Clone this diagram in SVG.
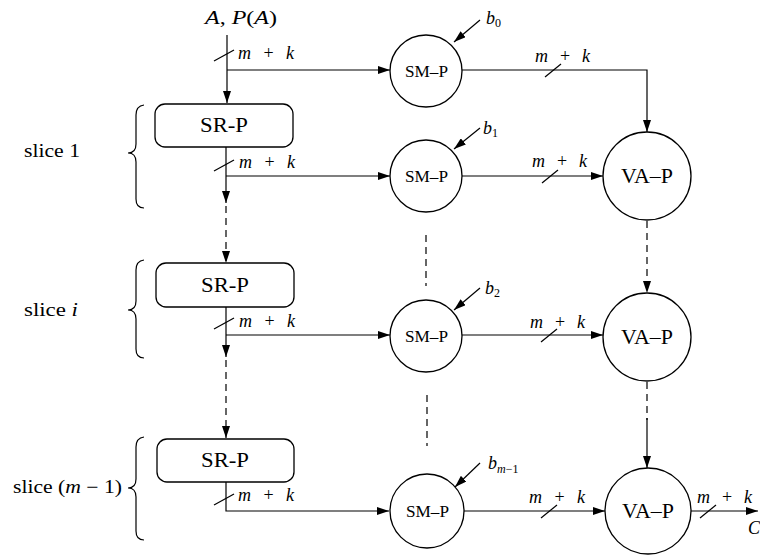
<svg xmlns="http://www.w3.org/2000/svg" width="760" height="555" viewBox="0 0 760 555">
  <defs>
    <marker id="arr" viewBox="0 0 12 8" refX="12" refY="4" markerWidth="12" markerHeight="8" markerUnits="userSpaceOnUse" orient="auto">
      <path d="M0,0 L12,4 L0,8 Z" fill="#000"/>
    </marker>
    <style>
      .ln { fill: none; stroke: #000; stroke-width: 1.2; }
      .dash { fill: none; stroke: #000; stroke-width: 1.2; stroke-dasharray: 7 5; }
      .nd { fill: #fff; stroke: #000; stroke-width: 1.3; }
      .t { font-family: "Liberation Serif", "DejaVu Serif", serif; fill: #000; }
      .i { font-style: italic; }
      .sr { font-size: 20px; }
      .sm { font-size: 17px; }
      .va { font-size: 21px; }
      .lab { font-size: 18px; }
    </style>
  </defs>

  <rect width="760" height="555" fill="#fff"/>

  <!-- input label -->
  <text class="t lab" x="205" y="24" textLength="72" lengthAdjust="spacingAndGlyphs"><tspan class="i">A</tspan>, <tspan class="i">P</tspan>(<tspan class="i">A</tspan>)</text>

  <!-- slice labels and braces -->
  <g id="slice-labels">
    <text class="t lab" x="24" y="157" textLength="56" lengthAdjust="spacingAndGlyphs">slice 1</text>
    <text class="t lab" x="24" y="316" textLength="54" lengthAdjust="spacingAndGlyphs">slice <tspan class="i">i</tspan></text>
    <text class="t lab" x="13" y="493" textLength="109" lengthAdjust="spacingAndGlyphs">slice (<tspan class="i">m</tspan> − 1)</text>
    <path class="ln" d="M144,105 Q136,106 136,115 L136,144 Q136,153 128,153 Q136,153 136,162 L136,199 Q136,208 144,208"/>
    <path class="ln" d="M144,260 Q136,261 136,270 L136,301 Q136,310 128,310 Q136,310 136,319 L136,349 Q136,358 144,358"/>
    <path class="ln" d="M144,437 Q136,438 136,447 L136,479 Q136,488 128,488 Q136,488 136,497 L136,531 Q136,540 144,540"/>
  </g>

  <!-- connectors -->
  <g id="connectors">
    <!-- main vertical chain -->
    <line class="ln" x1="227" y1="35" x2="227" y2="103" marker-end="url(#arr)"/>
    <line class="ln" x1="227" y1="70" x2="390" y2="70" marker-end="url(#arr)"/>
    <line class="ln" x1="226" y1="147" x2="226" y2="203" marker-end="url(#arr)"/>
    <line class="dash" x1="226" y1="206" x2="226" y2="263" marker-end="url(#arr)"/>
    <line class="ln" x1="226" y1="176" x2="390" y2="176" marker-end="url(#arr)"/>
    <line class="ln" x1="226" y1="307" x2="226" y2="357" marker-end="url(#arr)"/>
    <line class="dash" x1="226" y1="360" x2="226" y2="438" marker-end="url(#arr)"/>
    <line class="ln" x1="226" y1="335" x2="390" y2="335" marker-end="url(#arr)"/>
    <polyline class="ln" points="226,482 226,511 389,511" marker-end="url(#arr)"/>

    <!-- SM-P to VA-P -->
    <polyline class="ln" points="462,70 647,70 647,132" marker-end="url(#arr)"/>
    <line class="ln" x1="462" y1="176" x2="603" y2="176" marker-end="url(#arr)"/>
    <line class="ln" x1="462" y1="335" x2="603" y2="335" marker-end="url(#arr)"/>
    <line class="ln" x1="464" y1="511" x2="605" y2="511" marker-end="url(#arr)"/>

    <!-- VA-P chain -->
    <line class="dash" x1="647" y1="221" x2="647" y2="293" marker-end="url(#arr)"/>
    <line class="dash" x1="647" y1="382" x2="647" y2="420"/>
    <line class="ln" x1="647" y1="418" x2="647" y2="468" marker-end="url(#arr)"/>
    <line class="ln" x1="691" y1="511" x2="758" y2="511" marker-end="url(#arr)"/>

    <!-- SM-P continuation dots -->
    <line class="dash" x1="426" y1="235" x2="426" y2="286"/>
    <line class="dash" x1="427" y1="395" x2="427" y2="446"/>

    <!-- coefficient inputs -->
    <line class="ln" x1="480" y1="20" x2="454" y2="42" marker-end="url(#arr)"/>
    <line class="ln" x1="480" y1="128" x2="454" y2="149" marker-end="url(#arr)"/>
    <line class="ln" x1="480" y1="288" x2="454" y2="310" marker-end="url(#arr)"/>
    <line class="ln" x1="480" y1="463" x2="455" y2="487" marker-end="url(#arr)"/>

    <!-- bus width slashes -->
    <line class="ln" x1="214" y1="61" x2="234" y2="50"/>
    <line class="ln" x1="214" y1="171" x2="234" y2="160"/>
    <line class="ln" x1="214" y1="329" x2="234" y2="318"/>
    <line class="ln" x1="214" y1="505" x2="234" y2="494"/>
    <line class="ln" x1="545" y1="77" x2="561" y2="64"/>
    <line class="ln" x1="542" y1="183" x2="558" y2="170"/>
    <line class="ln" x1="541" y1="342" x2="557" y2="329"/>
    <line class="ln" x1="541" y1="518" x2="557" y2="505"/>
    <line class="ln" x1="700" y1="518" x2="716" y2="505"/>
  </g>

  <!-- bus width labels -->
  <g id="bus-labels" class="t lab">
    <text x="238" y="59" textLength="56" lengthAdjust="spacing"><tspan class="i">m</tspan> + <tspan class="i">k</tspan></text>
    <text x="239" y="168" textLength="56" lengthAdjust="spacing"><tspan class="i">m</tspan> + <tspan class="i">k</tspan></text>
    <text x="239" y="327" textLength="56" lengthAdjust="spacing"><tspan class="i">m</tspan> + <tspan class="i">k</tspan></text>
    <text x="238" y="501" textLength="56" lengthAdjust="spacing"><tspan class="i">m</tspan> + <tspan class="i">k</tspan></text>
    <text x="535" y="62" textLength="55" lengthAdjust="spacing"><tspan class="i">m</tspan> + <tspan class="i">k</tspan></text>
    <text x="532" y="167" textLength="55" lengthAdjust="spacing"><tspan class="i">m</tspan> + <tspan class="i">k</tspan></text>
    <text x="530" y="328" textLength="55" lengthAdjust="spacing"><tspan class="i">m</tspan> + <tspan class="i">k</tspan></text>
    <text x="529" y="503" textLength="56" lengthAdjust="spacing"><tspan class="i">m</tspan> + <tspan class="i">k</tspan></text>
    <text x="697" y="503" textLength="55" lengthAdjust="spacing"><tspan class="i">m</tspan> + <tspan class="i">k</tspan></text>
    <text x="748" y="534" class="i">C</text>
  </g>

  <!-- coefficient labels -->
  <g id="coef-labels" class="t lab">
    <text x="486" y="24"><tspan class="i">b</tspan><tspan font-size="12" dy="3">0</tspan></text>
    <text x="483" y="134"><tspan class="i">b</tspan><tspan font-size="12" dy="3">1</tspan></text>
    <text x="485" y="294"><tspan class="i">b</tspan><tspan font-size="12" dy="3">2</tspan></text>
    <text x="488" y="469"><tspan class="i">b</tspan><tspan font-size="12" dy="4"><tspan class="i">m</tspan>−1</tspan></text>
  </g>

  <!-- SR-P nodes -->
  <g id="srp1">
    <rect class="nd" x="155" y="104" width="138" height="43" rx="10"/>
    <text class="t sr" x="200" y="132" textLength="48" lengthAdjust="spacingAndGlyphs">SR-P</text>
  </g>
  <g id="srp2">
    <rect class="nd" x="156" y="263" width="138" height="44" rx="10"/>
    <text class="t sr" x="201" y="292" textLength="48" lengthAdjust="spacingAndGlyphs">SR-P</text>
  </g>
  <g id="srp3">
    <rect class="nd" x="157" y="439" width="137" height="43" rx="10"/>
    <text class="t sr" x="201" y="467" textLength="48" lengthAdjust="spacingAndGlyphs">SR-P</text>
  </g>

  <!-- SM-P nodes -->
  <g id="smp0">
    <circle class="nd" cx="426" cy="71" r="36"/>
    <text class="t sm" x="405" y="77" textLength="43" lengthAdjust="spacingAndGlyphs">SM–P</text>
  </g>
  <g id="smp1">
    <circle class="nd" cx="426" cy="176" r="36"/>
    <text class="t sm" x="405" y="182" textLength="43" lengthAdjust="spacingAndGlyphs">SM–P</text>
  </g>
  <g id="smp2">
    <circle class="nd" cx="426" cy="336" r="36"/>
    <text class="t sm" x="405" y="342" textLength="43" lengthAdjust="spacingAndGlyphs">SM–P</text>
  </g>
  <g id="smp3">
    <circle class="nd" cx="427" cy="511" r="37"/>
    <text class="t sm" x="406" y="517" textLength="43" lengthAdjust="spacingAndGlyphs">SM–P</text>
  </g>

  <!-- VA-P nodes -->
  <g id="vap1">
    <circle class="nd" cx="647" cy="176" r="44"/>
    <text class="t va" x="621" y="183" textLength="52" lengthAdjust="spacingAndGlyphs">VA–P</text>
  </g>
  <g id="vap2">
    <circle class="nd" cx="647" cy="337" r="44"/>
    <text class="t va" x="621" y="344" textLength="52" lengthAdjust="spacingAndGlyphs">VA–P</text>
  </g>
  <g id="vap3">
    <circle class="nd" cx="648" cy="511" r="43"/>
    <text class="t va" x="622" y="518" textLength="52" lengthAdjust="spacingAndGlyphs">VA–P</text>
  </g>
</svg>
